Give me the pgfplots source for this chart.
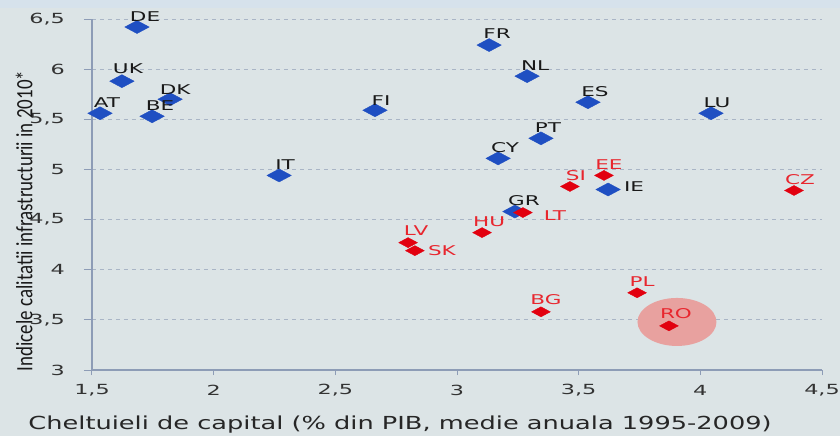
\documentclass[border=0pt]{standalone}
\usepackage{pgfplots}
\pgfplotsset{compat=1.18}
\usepackage{pgfplotstable}
\usepackage{fontspec}
\setmainfont{DejaVu Sans}[FakeStretch=1.6]
\newfontfamily\xlabfont{DejaVu Sans}[FakeStretch=1.43]
\newfontfamily\ylabfont{Carlito}[FakeStretch=0.81]
\usetikzlibrary{backgrounds}

\definecolor{bg}{HTML}{DCE4E6}
\definecolor{topband}{HTML}{D6E2EC}
\definecolor{ptblue}{HTML}{1F4FC2}
\definecolor{ptred}{HTML}{E2000F}
\definecolor{labred}{HTML}{E8262E}
\definecolor{axisline}{HTML}{8D9CB6}
\definecolor{gridc}{HTML}{A9B5C6}
\definecolor{rofill}{HTML}{E8A19F}

% x = capital spending (% GDP), y = infrastructure index; dx/dy = label offset in bp
\pgfplotstableread{
x     y    lab dx dy
1.685 6.42 DE  8  10
1.623 5.88 UK  6  12
1.821 5.70 DK  5  10
1.533 5.56 AT  7  11
1.747 5.53 BE  8  11
2.663 5.59 FI  6  10
2.269 4.94 IT  6  11
3.132 6.24 FR  8  11
3.288 5.93 NL  8  11
3.538 5.67 ES  7  11
4.044 5.56 LU  6  11
3.345 5.31 PT  7  11
3.169 5.11 CY  7  11
3.621 4.80 IE  26 3
3.238 4.58 GR  9  11
}\bluedata

\pgfplotstableread{
x     y    lab dx dy
3.464 4.83 SI  6  11
3.604 4.94 EE  5  11
4.385 4.79 CZ  6  11
3.271 4.57 LT  32 -3
3.103 4.37 HU  7  11
2.799 4.27 LV  8  12
2.827 4.19 SK  27 0
3.740 3.77 PL  5  11
3.345 3.58 BG  5  12
3.871 3.44 RO  7  12
}\reddata

\tikzset{ticktext/.style={font=\fontsize{14}{16}\selectfont, text=black!80, inner sep=0pt}}

\begin{document}
\begin{tikzpicture}
\begin{axis}[
    scale only axis,
    width=730bp, height=351bp,
    xmin=1.5, xmax=4.5, ymin=3, ymax=6.5,
    xtick={1.5,2,...,4.5}, ytick={3,3.5,...,6.5},
    xticklabels={}, yticklabels={},
    tick pos=left,
    tick align=outside,
    axis line style={draw=none},
    xtick style={axisline, line width=1bp, /pgfplots/major tick length=5bp},
    ytick style={axisline, line width=1bp, /pgfplots/major tick length=8bp},
    ymajorgrids,
    grid style={gridc, line width=1bp, dash pattern=on 4bp off 4bp},
    xlabel={Cheltuieli de capital (\% din PIB, medie anuala 1995-2009)},
    xlabel style={font=\xlabfont\fontsize{18}{20}\selectfont, text=black!85,
        at={(axis description cs:0.422,-0.155)}, anchor=center},
    ylabel={Indicele calitatii infrastructurii in 2010*},
    ylabel style={font=\ylabfont\fontsize{23.5}{25}\selectfont, text=black!90,
        at={(axis description cs:-0.093,0.4245)}, anchor=center},
    clip=false,
    point meta=explicit symbolic,
    visualization depends on={\thisrow{dx} \as \dx},
    visualization depends on={\thisrow{dy} \as \dy},
    nodes near coords,
    nodes near coords style={anchor=center, xshift=\dx bp, yshift=\dy bp,
        font=\fontsize{13.5}{16}\selectfont, inner sep=0pt},
]

% left and bottom axis lines
\draw[axisline, line width=1.2bp] (rel axis cs:0,1) -- (rel axis cs:0,0) -- (rel axis cs:1,0);

% tick labels with decimal comma
\pgfplotsinvokeforeach{3,3.5,4,4.5,5,5.5,6,6.5}{
    \node[ticktext, anchor=east] at ([xshift=-27bp]axis cs:1.5,#1)
        {\pgfmathprintnumber[use comma, assume math mode=true]{#1}};
}
\pgfplotsinvokeforeach{1.5,2,2.5,3,3.5,4,4.5}{
    \node[ticktext, anchor=center] at ([yshift=-20bp]axis cs:#1,3)
        {\pgfmathprintnumber[use comma, assume math mode=true]{#1}};
}

% highlight round Romania
\fill[rofill] (axis cs:3.904,3.479) ellipse [x radius=39.5bp, y radius=24bp];

\addplot[only marks, mark=diamond*, mark size=6.5bp,
    mark options={ptblue, xscale=2.5},
    nodes near coords style={text=black!90}]
    table[x=x, y=y, meta=lab] {\bluedata};

\addplot[only marks, mark=diamond*, mark size=5bp,
    mark options={ptred, xscale=2.5},
    nodes near coords style={text=labred}]
    table[x=x, y=y, meta=lab] {\reddata};

\end{axis}

\begin{scope}[on background layer]
\fill[bg] ([xshift=-92bp,yshift=-66bp]current axis.south west)
    rectangle ([xshift=18bp,yshift=19bp]current axis.north east);
\fill[topband] ([xshift=-92bp,yshift=11bp]current axis.north west)
    rectangle ([xshift=18bp,yshift=19bp]current axis.north east);
\end{scope}
\pgfresetboundingbox
\useasboundingbox ([xshift=-92bp,yshift=-66bp]current axis.south west)
    rectangle ([xshift=18bp,yshift=19bp]current axis.north east);
\end{tikzpicture}
\end{document}
